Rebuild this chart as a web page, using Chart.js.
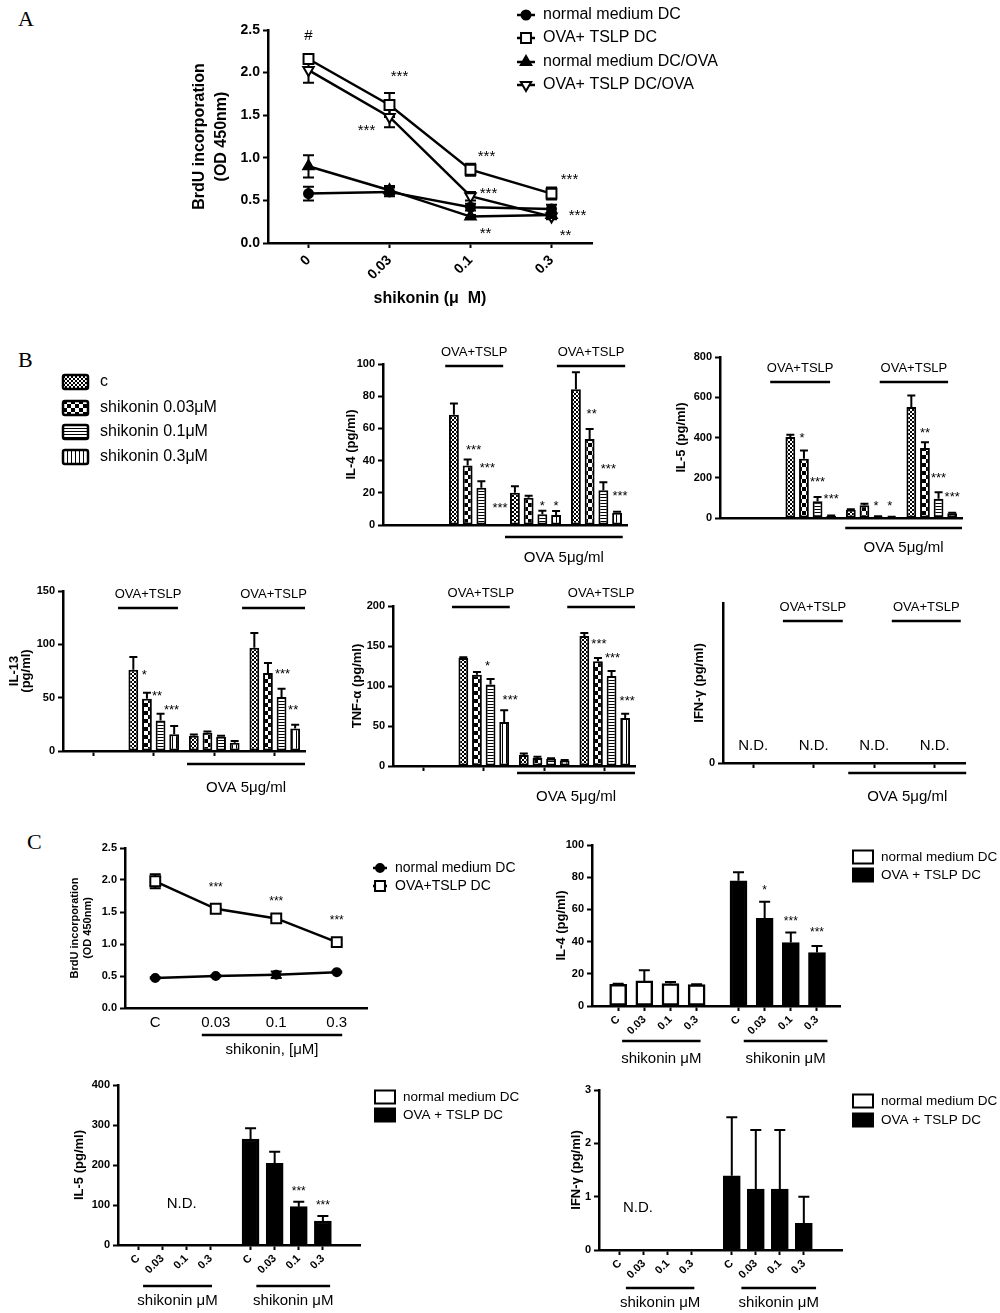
<!DOCTYPE html>
<html>
<head>
<meta charset="utf-8">
<title>Shikonin / TSLP-DC figure</title>
<script src="https://cdn.jsdelivr.net/npm/chart.js@4.4.1/dist/chart.umd.min.js"></script>
<style>
  body { margin: 0; background: #fff; }
  #page { position: relative; width: 1000px; height: 1313px; overflow: hidden; background: #fff; }
  #page canvas { position: absolute; }
  .panel { position: absolute; font: 22px 'Liberation Serif', 'Times New Roman', serif; line-height: 1; }
</style>
</head>
<body>
<div id="page">
  <div class="panel" style="left:18px;top:8px">A</div>
  <div class="panel" style="left:18px;top:349px">B</div>
  <div class="panel" style="left:27px;top:831px">C</div>
</div>
<script>
const FONT = "'Liberation Sans', Arial, sans-serif";
Chart.defaults.font.family = FONT;
Chart.defaults.color = '#000';

// ---- A: BrdU incorporation ----
const doseA = ['0', '0.03', '0.1', '0.3'];
const aNormal = [0.58, 0.60, 0.42, 0.40];
const aNormalErr = [0.08, 0.05, 0.04, 0.05];
const aTslp = [2.16, 1.62, 0.86, 0.58];
const aTslpErr = [0.05, 0.14, 0.07, 0.07];
const aNormalOva = [0.90, 0.62, 0.31, 0.33];
const aNormalOvaErr = [0.13, 0.05, 0.02, 0.03];
const aTslpOva = [2.03, 1.48, 0.55, 0.31];
const aTslpOvaErr = [0.15, 0.12, 0.05, 0.03];

// ---- B: cytokines, rows = c / 0.03 / 0.1 / 0.3, columns = groups ----
const bSeries = ['c', 'shikonin 0.03\u03bcM', 'shikonin 0.1\u03bcM', 'shikonin 0.3\u03bcM'];
const bGroups = ['medium', 'OVA+TSLP', 'OVA', 'OVA+TSLP/OVA'];
const il4Mean = [[0, 68.5, 20, 84.3], [0.5, 37, 16.9, 53.4], [0, 23.1, 6.6, 21.6], [0, 0.5, 6.2, 7.6]];
const il4Err = [[0, 7, 4, 10.5], [0, 3.7, 1.3, 6.2], [0, 4, 2.3, 5], [0, 0, 2.5, 0.6]];
const il5Mean = [[1, 402, 41, 551], [5, 295, 63, 348], [1, 83, 8, 96], [1, 10, 5, 23]];
const il5Err = [[0, 12, 3, 58], [0, 41, 8, 28], [0, 21, 1, 32], [0, 2, 1, 3]];
const il13Mean = [[0, 76.2, 14.4, 96.9], [0, 49.1, 17.2, 73.1], [0, 28.7, 13.4, 50.6], [0, 15.6, 7.8, 21.2]];
const il13Err = [[0, 12, 1, 13.7], [0, 5.6, 1, 9.4], [0, 6.3, 0.8, 7.8], [0, 7.8, 1.5, 3.4]];
const tnfMean = [[0, 135, 13.7, 162.5], [0, 114.2, 10, 130.8], [0, 102, 9.2, 112.5], [0, 55, 7, 60]];
const tnfErr = [[0, 1, 2, 3.7], [0, 3.3, 1.5, 4.2], [0, 6.7, 0.5, 6.2], [0, 14.6, 0.5, 5.4]];
const ifnBMean = [[null, null, null, null], [null, null, null, null], [null, null, null, null], [null, null, null, null]];
const ifnBErr = [[0, 0, 0, 0], [0, 0, 0, 0], [0, 0, 0, 0], [0, 0, 0, 0]];

// ---- C ----
const cDose = ['C', '0.03', '0.1', '0.3'];
const cBrduNormal = [0.47, 0.50, 0.52, 0.56];
const cBrduNormalErr = [0.01, 0.01, 0.05, 0.01];
const cBrduTslp = [1.98, 1.55, 1.40, 1.03];
const cBrduTslpErr = [0.11, 0.02, 0.02, 0.04];
const cIl4Normal = [13.5, 15.6, 13.9, 13.3];
const cIl4NormalErr = [0.3, 6.6, 1, 0.2];
const cIl4Tslp = [77.8, 54.4, 39.4, 33.2];
const cIl4TslpErr = [5.2, 10.3, 6.2, 4.1];
const cIl5Normal = [null, null, null, null];
const cIl5Tslp = [265, 204, 95.8, 60];
const cIl5TslpErr = [26.7, 29, 12.5, 12.5];
const cIfnNormal = [null, null, null, null];
const cIfnTslp = [1.39, 1.14, 1.14, 0.5];
const cIfnTslpErr = [1.1, 1.11, 1.11, 0.5];

// ---------- helpers ----------
const page = document.getElementById('page');

function tile(w, h, draw) {
  const c = document.createElement('canvas');
  c.width = w; c.height = h;
  const g = c.getContext('2d');
  g.fillStyle = '#fff'; g.fillRect(0, 0, w, h);
  g.fillStyle = '#000'; draw(g);
  return g.createPattern(c, 'repeat');
}
const patterns = [
  tile(4, 4, g => { g.fillRect(0, 0, 2, 2); g.fillRect(2, 2, 2, 2); }),
  tile(8, 8, g => { g.fillRect(0, 0, 4, 4); g.fillRect(4, 4, 4, 4); }),
  tile(1, 3, g => g.fillRect(0, 0, 1, 1)),
  tile(4, 1, g => g.fillRect(0, 0, 1, 1))
];

function marker(ctx, style, rot, x, y, r, fill) {
  ctx.beginPath();
  if (style === 'circle') {
    ctx.arc(x, y, r, 0, Math.PI * 2);
  } else if (style === 'rect') {
    const s = r * Math.SQRT1_2;
    ctx.rect(x - s, y - s, 2 * s, 2 * s);
  } else {
    let a = (rot || 0) * Math.PI / 180;
    for (let k = 0; k < 3; k++) {
      const px = x + Math.sin(a) * r, py = y - Math.cos(a) * r;
      k ? ctx.lineTo(px, py) : ctx.moveTo(px, py);
      a += Math.PI * 2 / 3;
    }
    ctx.closePath();
  }
  ctx.fillStyle = fill; ctx.fill(); ctx.stroke();
}

function starY(t, size) { return t[0] === '*' ? 0.58 * size : 0.36 * size; }

const deco = {
  id: 'deco',
  beforeDatasetsDraw(chart) {
    const ys = chart.scales.y, ctx = chart.ctx;
    ctx.save();
    ctx.strokeStyle = '#000';
    chart.data.datasets.forEach((ds, di) => {
      if (!ds.errors) return;
      ctx.lineWidth = ds.errWidth || 2;
      chart.getDatasetMeta(di).data.forEach((el, i) => {
        const raw = ds.data[i];
        const v = raw !== null && typeof raw === 'object' ? raw.y : raw;
        const e = ds.errors[i];
        if (!e || v == null) return;
        const c = (ds.capWidth || 10) / 2, x = el.x;
        const yt = ys.getPixelForValue(v + e);
        const yb = ds.errUp ? el.y : ys.getPixelForValue(v - e);
        ctx.beginPath();
        ctx.moveTo(x, yb); ctx.lineTo(x, yt);
        ctx.moveTo(x - c, yt); ctx.lineTo(x + c, yt);
        if (!ds.errUp) { ctx.moveTo(x - c, yb); ctx.lineTo(x + c, yb); }
        ctx.stroke();
      });
    });
    ctx.restore();
  },
  afterDraw(chart) {
    const o = chart.canvas.deco;
    if (!o) return;
    const ctx = chart.ctx, xs = chart.scales.x, ys = chart.scales.y, ca = chart.chartArea, bx = o.box;
    ctx.save();
    ctx.fillStyle = '#000'; ctx.strokeStyle = '#000';

    // significance marks
    (o.stars || []).forEach(s => {
      const el = chart.getDatasetMeta(s.ds || 0).data[s.i];
      const size = o.starSize || 13;
      ctx.font = size + 'px ' + FONT;
      ctx.textAlign = 'center'; ctx.textBaseline = 'alphabetic';
      ctx.fillText(s.t, el.x + (s.dx || 0), ys.getPixelForValue(s.v) + starY(s.t, size));
    });

    // group bars with labels
    (o.spans || []).forEach(sp => {
      const x1 = xs.getPixelForValue(sp.a), x2 = xs.getPixelForValue(sp.b);
      const y = sp.top != null ? ca.top + sp.top : ca.bottom + sp.bottom;
      ctx.lineWidth = 2.5;
      ctx.beginPath(); ctx.moveTo(x1, y); ctx.lineTo(x2, y); ctx.stroke();
      if (sp.text) {
        ctx.font = sp.font; ctx.textAlign = 'center'; ctx.textBaseline = 'middle';
        ctx.fillText(sp.text, (x1 + x2) / 2, y + sp.tdy);
      }
    });

    // free texts (N.D.)
    (o.texts || []).forEach(t => {
      ctx.font = t.font; ctx.textAlign = 'center'; ctx.textBaseline = 'middle';
      const y = t.v != null ? ys.getPixelForValue(t.v) : ca.bottom + t.bottom;
      ctx.fillText(t.t, xs.getPixelForValue(t.x), y);
    });

    // legend
    const L = o.legend;
    if (L) {
      chart.data.datasets.forEach((ds, di) => {
        const y = L.rows[di] - bx.y;
        ctx.strokeStyle = '#000';
        if (L.kind === 'line') {
          const mx = L.mx - bx.x;
          ctx.lineWidth = ds.borderWidth;
          ctx.beginPath(); ctx.moveTo(mx - L.half, y); ctx.lineTo(mx + L.half, y); ctx.stroke();
          ctx.lineWidth = ds.pointBorderWidth;
          marker(ctx, ds.pointStyle, ds.pointRotation, mx, y, ds.pointRadius, ds.pointBackgroundColor);
        } else {
          const lx = L.bx - bx.x;
          ctx.fillStyle = ds.backgroundColor;
          ctx.fillRect(lx, y - L.bh / 2, L.bw, L.bh);
          ctx.lineWidth = 2;
          ctx.strokeRect(lx, y - L.bh / 2, L.bw, L.bh);
        }
        ctx.fillStyle = '#000';
        ctx.font = L.font; ctx.textAlign = 'left'; ctx.textBaseline = 'middle';
        ctx.fillText(ds.label, L.tx - bx.x, y);
      });
    }
    ctx.restore();
  }
};
Chart.register(deco);

function addCanvas(box) {
  const cv = document.createElement('canvas');
  cv.width = box.w; cv.height = box.h;
  Object.assign(cv.style, { left: box.x + 'px', top: box.y + 'px', width: box.w + 'px', height: box.h + 'px' });
  page.appendChild(cv);
  return cv;
}

function makeChart(box, area, cfg, decoOpts) {
  const cv = addCanvas(box);
  cv.deco = Object.assign({ box }, decoOpts);
  const o = cfg.options;
  Object.assign(o, { responsive: false, animation: false, devicePixelRatio: 1, events: [] });
  o.layout = { autoPadding: false, padding: { left: 0, top: area.t - box.y, right: box.x + box.w - area.r, bottom: 0 } };
  o.scales.y.afterFit = a => { a.width = area.l - box.x; };
  o.scales.x.afterFit = a => { a.height = box.y + box.h - area.b; };
  o.plugins = { legend: { display: false }, tooltip: { enabled: false } };
  return new Chart(cv, cfg);
}

const axisBorder = { color: '#000', width: 2.5 };
function tickGrid(len) {
  return { display: true, drawOnChartArea: false, drawTicks: len > 0, tickLength: len, tickWidth: 2, tickColor: '#000', color: '#000', offset: false };
}
function yTitle(text, size, lh) {
  return { display: true, text, font: { size, weight: 'bold', lineHeight: lh || 1.2 }, padding: 0 };
}

// ---------- A ----------
function lineSet(label, data, errors, style, fill, r, rot) {
  return {
    label, data, errors, capWidth: 11, errWidth: 2,
    borderColor: '#000', borderWidth: 2.5, tension: 0, fill: false,
    pointStyle: style, pointRotation: rot || 0, pointRadius: r,
    pointBackgroundColor: fill, pointBorderColor: '#000', pointBorderWidth: 2
  };
}

makeChart({ x: 188, y: 0, w: 580, h: 310 }, { l: 268, t: 30, r: 592, b: 243 }, {
  type: 'line',
  data: {
    labels: doseA,
    datasets: [
      lineSet('normal medium DC', aNormal, aNormalErr, 'circle', '#000', 4.5),
      lineSet('OVA+ TSLP DC', aTslp, aTslpErr, 'rect', '#fff', 7),
      lineSet('normal medium DC/OVA', aNormalOva, aNormalOvaErr, 'triangle', '#000', 6),
      lineSet('OVA+ TSLP DC/OVA', aTslpOva, aTslpOvaErr, 'triangle', '#fff', 6, 180)
    ]
  },
  options: {
    scales: {
      x: {
        offset: true, border: axisBorder, grid: tickGrid(5),
        ticks: { minRotation: 45, maxRotation: 45, font: { size: 14, weight: 'bold' }, padding: 4 },
        title: { display: true, text: 'shikonin (\u03bc  M)', font: { size: 16, weight: 'bold', lineHeight: 1.4 }, padding: 0 }
      },
      y: {
        min: 0, max: 2.5, border: axisBorder, grid: tickGrid(5),
        ticks: { stepSize: 0.5, font: { size: 14, weight: 'bold' }, padding: 3, callback: v => v.toFixed(1) },
        title: yTitle(['BrdU incorporation', '(OD 450nm)'], 16, 1.4)
      }
    }
  }
}, {
  starSize: 15,
  stars: [
    { i: 0, v: 2.45, t: '#', dx: 0 },
    { i: 1, v: 2.0, t: '***', dx: 10 },
    { i: 1, v: 1.37, t: '***', dx: -23 },
    { i: 2, v: 1.07, t: '***', dx: 16 },
    { i: 2, v: 0.63, t: '***', dx: 18 },
    { i: 2, v: 0.16, t: '**', dx: 15 },
    { i: 3, v: 0.79, t: '***', dx: 18 },
    { i: 3, v: 0.37, t: '***', dx: 26 },
    { i: 3, v: 0.14, t: '**', dx: 14 }
  ],
  legend: { kind: 'line', mx: 526, half: 9, tx: 543, rows: [15, 38, 62, 85], font: '16px ' + FONT }
});

// ---------- B ----------
(function bLegend() {
  const box = { x: 55, y: 368, w: 200, h: 100 };
  const g = addCanvas(box).getContext('2d');
  const rows = [382, 408, 432, 457];
  bSeries.forEach((lab, s) => {
    const y = rows[s] - box.y, x = 63 - box.x;
    g.fillStyle = patterns[s];
    g.fillRect(x, y - 7, 25, 14);
    g.lineWidth = 2.5; g.strokeStyle = '#000';
    g.beginPath(); g.roundRect(x, y - 7, 25, 14, 2); g.stroke();
    g.fillStyle = '#000'; g.font = '16px ' + FONT; g.textBaseline = 'middle';
    g.fillText(lab, 100 - box.x, y);
  });
})();

function cytoChart(c) {
  const datasets = bSeries.map((lab, s) => ({
    label: lab, data: c.mean[s], errors: c.err[s], errUp: true, capWidth: 8, errWidth: 2,
    backgroundColor: patterns[s], borderColor: '#000', borderWidth: 2, borderSkipped: false,
    categoryPercentage: 0.9, barPercentage: 0.72
  }));
  const y = {
    min: 0, max: c.max, border: axisBorder, grid: tickGrid(5),
    ticks: { stepSize: c.step, font: { size: 11, weight: 'bold' }, padding: 3 },
    title: yTitle(c.title, 13, c.lh)
  };
  if (c.zeroOnly) y.afterBuildTicks = a => { a.ticks = [{ value: 0 }]; };
  const spans = c.top.map(([a, b]) => ({ a, b, top: c.topDy, text: 'OVA+TSLP', tdy: -14, font: '13px ' + FONT }));
  spans.push({ a: c.bottom[0], b: c.bottom[1], bottom: c.botDy, text: 'OVA 5\u03bcg/ml', tdy: c.botTdy, font: '15px ' + FONT });
  return makeChart(c.box, c.area, {
    type: 'bar',
    data: { labels: bGroups, datasets },
    options: {
      scales: {
        x: { offset: true, border: axisBorder, grid: tickGrid(c.xTicks ? 5 : 0), ticks: { display: false } },
        y
      }
    }
  }, {
    starSize: 13,
    stars: c.stars.map(s => ({ ds: s.s, i: s.g, v: s.v, t: s.t, dx: s.dx })),
    spans,
    texts: c.texts || []
  });
}

cytoChart({
  box: { x: 344, y: 335, w: 290, h: 240 }, area: { l: 383, t: 364, r: 627, b: 525 },
  title: 'IL-4 (pg/ml)', mean: il4Mean, err: il4Err, max: 100, step: 20,
  top: [[0.52, 1.47], [2.35, 3.47]], topDy: 2, bottom: [1.5, 3.43], botDy: 12, botTdy: 21,
  stars: [
    { s: 1, g: 1, v: 49, t: '***', dx: 6 }, { s: 2, g: 1, v: 37.3, t: '***', dx: 6 }, { s: 3, g: 1, v: 12.8, t: '***', dx: 5 },
    { s: 2, g: 2, v: 14.2, t: '*', dx: 0 }, { s: 3, g: 2, v: 14.2, t: '*', dx: 0 },
    { s: 1, g: 3, v: 71, t: '**', dx: 2 }, { s: 2, g: 3, v: 37, t: '***', dx: 5 }, { s: 3, g: 3, v: 20.2, t: '***', dx: 3 }
  ]
});

cytoChart({
  box: { x: 674, y: 335, w: 320, h: 240 }, area: { l: 720, t: 357, r: 962, b: 518 },
  title: 'IL-5 (pg/ml)', mean: il5Mean, err: il5Err, max: 800, step: 200,
  top: [[0.33, 1.32], [2.14, 3.27]], topDy: 25, bottom: [1.57, 3.5], botDy: 10, botTdy: 20,
  stars: [
    { s: 1, g: 1, v: 417, t: '*', dx: -2 }, { s: 2, g: 1, v: 194, t: '***', dx: 0 }, { s: 3, g: 1, v: 111, t: '***', dx: 0 },
    { s: 2, g: 2, v: 78, t: '*', dx: -2 }, { s: 3, g: 2, v: 78, t: '*', dx: -2 },
    { s: 1, g: 3, v: 439, t: '**', dx: 0 }, { s: 2, g: 3, v: 215, t: '***', dx: 0 }, { s: 3, g: 3, v: 124, t: '***', dx: 0 }
  ]
});

cytoChart({
  box: { x: 8, y: 575, w: 300, h: 230 }, area: { l: 63, t: 591, r: 305, b: 751 },
  title: ['IL-13', '(pg/ml)'], lh: 0.95, mean: il13Mean, err: il13Err, max: 150, step: 50, xTicks: true,
  top: [[0.41, 1.4], [2.46, 3.5]], topDy: 17, bottom: [1.55, 3.5], botDy: 13, botTdy: 24,
  stars: [
    { s: 0, g: 1, v: 75, t: '*', dx: 11 }, { s: 1, g: 1, v: 54.7, t: '**', dx: 10 }, { s: 2, g: 1, v: 42.2, t: '***', dx: 11 },
    { s: 2, g: 3, v: 75.6, t: '***', dx: 1 }, { s: 3, g: 3, v: 42, t: '**', dx: -2 }
  ]
});

cytoChart({
  box: { x: 350, y: 575, w: 290, h: 235 }, area: { l: 393, t: 606, r: 635, b: 766 },
  title: 'TNF-\u03b1 (pg/ml)', mean: tnfMean, err: tnfErr, max: 200, step: 50, xTicks: true,
  top: [[0.475, 1.43], [2.38, 3.5]], topDy: 1, bottom: [1.55, 3.5], botDy: 7, botTdy: 24,
  stars: [
    { s: 2, g: 1, v: 130, t: '*', dx: -3 }, { s: 3, g: 1, v: 87, t: '***', dx: 6 },
    { s: 1, g: 3, v: 157, t: '***', dx: 1 }, { s: 2, g: 3, v: 139.6, t: '***', dx: 1 }, { s: 3, g: 3, v: 85.4, t: '***', dx: 2 }
  ]
});

cytoChart({
  box: { x: 692, y: 575, w: 300, h: 235 }, area: { l: 723, t: 603, r: 965, b: 763 },
  title: 'IFN-\u03b3 (pg/ml)', mean: ifnBMean, err: ifnBErr, max: 1, step: 1, xTicks: true, zeroOnly: true,
  top: [[0.49, 1.48], [2.29, 3.43]], topDy: 18, bottom: [1.57, 3.52], botDy: 10, botTdy: 24,
  stars: [],
  texts: [0, 1, 2, 3].map(g => ({ x: g, bottom: -17, t: 'N.D.', font: '15px ' + FONT }))
});

// ---------- C: BrdU ----------
makeChart({ x: 68, y: 825, w: 470, h: 235 }, { l: 125, t: 848, r: 367, b: 1008 }, {
  type: 'line',
  data: {
    labels: cDose,
    datasets: [
      lineSet('normal medium DC', cBrduNormal, cBrduNormalErr, 'circle', '#000', 4),
      lineSet('OVA+TSLP DC', cBrduTslp, cBrduTslpErr, 'rect', '#fff', 7)
    ]
  },
  options: {
    scales: {
      x: {
        offset: true, border: axisBorder, grid: tickGrid(0),
        ticks: { font: { size: 15 }, padding: 6 }
      },
      y: {
        min: 0, max: 2.5, border: axisBorder, grid: tickGrid(5),
        ticks: { stepSize: 0.5, font: { size: 11, weight: 'bold' }, padding: 3, callback: v => v.toFixed(1) },
        title: yTitle(['BrdU incorporation', '(OD 450nm)'], 11, 1.2)
      }
    }
  }
}, {
  starSize: 12,
  stars: [{ i: 1, v: 1.94, t: '***' }, { i: 2, v: 1.72, t: '***' }, { i: 3, v: 1.42, t: '***' }],
  spans: [{ a: 0.77, b: 3.09, bottom: 27, text: 'shikonin, [\u03bcM]', tdy: 15, font: '15px ' + FONT }],
  legend: { kind: 'line', mx: 380, half: 7, tx: 395, rows: [868, 886], font: '14px ' + FONT }
});

// ---------- C: cytokine bars ----------
function cBarChart(c) {
  const pos = [1, 2, 3, 4, 5 + c.gap, 6 + c.gap, 7 + c.gap, 8 + c.gap];
  const set = (label, vals, errs, color, off) => ({
    label, data: vals.map((y, i) => ({ x: pos[off + i], y })), errors: errs, errUp: true,
    capWidth: 11, errWidth: 2, backgroundColor: color, borderColor: '#000', borderWidth: 2.5,
    borderSkipped: false, barThickness: 17, grouped: false
  });
  return makeChart(c.box, c.area, {
    type: 'bar',
    data: {
      datasets: [
        set('normal medium DC', c.normal, c.normalErr, '#fff', 0),
        set('OVA + TSLP DC', c.tslp, c.tslpErr, '#000', 4)
      ]
    },
    options: {
      scales: {
        x: {
          type: 'linear', min: c.min, max: c.xmax, offset: false, border: axisBorder, grid: tickGrid(5),
          afterBuildTicks: a => { a.ticks = pos.map(v => ({ value: v })); },
          ticks: { autoSkip: false, minRotation: 45, maxRotation: 45, font: { size: 11, weight: 'bold' }, padding: 2,
            callback: (v, i) => cDose[i % 4] }
        },
        y: {
          min: 0, max: c.max, border: axisBorder, grid: tickGrid(5),
          ticks: { stepSize: c.step, font: { size: 11, weight: 'bold' }, padding: 3 },
          title: yTitle(c.title, 13)
        }
      }
    }
  }, {
    starSize: 12,
    stars: c.stars.map(s => ({ ds: 1, i: s.i, v: s.v, t: s.t })),
    spans: c.spans.map(([a, b]) => ({ a, b, bottom: c.botDy, text: 'shikonin \u03bcM', tdy: c.botTdy, font: '15px ' + FONT })),
    texts: c.texts || [],
    legend: { kind: 'box', bx: c.lx, bw: 20, bh: 13, tx: c.lx + 28, rows: c.rows, font: '13.5px ' + FONT }
  });
}

cBarChart({
  box: { x: 554, y: 825, w: 446, h: 250 }, area: { l: 592, t: 845, r: 840, b: 1006 },
  title: 'IL-4 (pg/ml)', max: 100, step: 20, gap: 0.6, min: 0, xmax: 9.48,
  normal: cIl4Normal, normalErr: cIl4NormalErr, tslp: cIl4Tslp, tslpErr: cIl4TslpErr,
  stars: [{ i: 1, v: 74, t: '*' }, { i: 2, v: 54.4, t: '***' }, { i: 3, v: 48.1, t: '***' }],
  spans: [[1.15, 4.15], [5.8, 9.0]], botDy: 35, botTdy: 18,
  lx: 853, rows: [857, 875]
});

cBarChart({
  box: { x: 72, y: 1065, w: 470, h: 248 }, area: { l: 118, t: 1085, r: 360, b: 1245 },
  title: 'IL-5 (pg/ml)', max: 400, step: 100, gap: 0.66, min: 0.16, xmax: 10.2,
  normal: cIl5Normal, normalErr: null, tslp: cIl5Tslp, tslpErr: cIl5TslpErr,
  stars: [{ i: 2, v: 143, t: '***' }, { i: 3, v: 108, t: '***' }],
  spans: [[1.2, 4.06], [5.9, 8.96]], botDy: 41, botTdy: 15,
  texts: [{ x: 2.8, v: 102, t: 'N.D.', font: '15px ' + FONT }],
  lx: 375, rows: [1097, 1115]
});

cBarChart({
  box: { x: 569, y: 1065, w: 431, h: 248 }, area: { l: 599, t: 1090, r: 842, b: 1250 },
  title: 'IFN-\u03b3 (pg/ml)', max: 3, step: 1, gap: 0.66, min: 0.13, xmax: 10.25,
  normal: cIfnNormal, normalErr: null, tslp: cIfnTslp, tslpErr: cIfnTslpErr,
  stars: [],
  spans: [[1.25, 4.1], [6.06, 9.17]], botDy: 38, botTdy: 15,
  texts: [{ x: 1.75, v: 0.79, t: 'N.D.', font: '15px ' + FONT }],
  lx: 853, rows: [1101, 1120]
});
</script>
</body>
</html>
